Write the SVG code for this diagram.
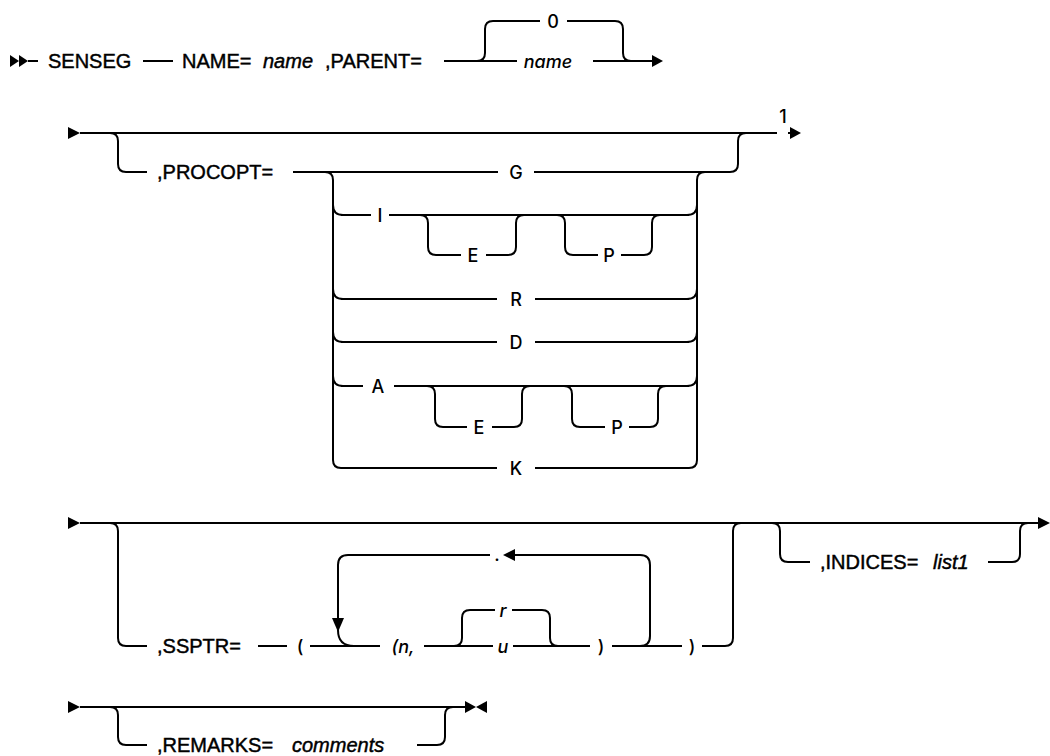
<svg xmlns="http://www.w3.org/2000/svg" width="1050" height="756" viewBox="0 0 1050 756">
<style>
.ln{fill:none;stroke:#000;stroke-width:2}
.ah{fill:#000}
.t{font-family:"Liberation Sans",Arial,sans-serif;font-size:20px;fill:#000;stroke:#000;stroke-width:0.45}
.s{font-family:Inter,"Liberation Sans",sans-serif;font-size:18px;font-weight:500;fill:#000;text-anchor:middle}
.i{font-style:italic}
</style>
<rect width="1050" height="756" fill="#fff"/>
<g id="connectors">
<path class="ln" d="M28,61H38 M143,61H173 M444,61H517 M593,61H653"/>
<path class="ln" d="M477,61Q485,61 485,53V29Q485,21 493,21H540 M567,21H615Q623,21 623,29V53Q623,61 631,61"/>
<path class="ln" d="M80,133H777 M788,133H791"/>
<path class="ln" d="M110,133Q118,133 118,141V164Q118,172 126,172H147"/>
<path class="ln" d="M293,172H498 M534,172H730Q738,172 738,164V141Q738,133 746,133"/>
<path class="ln" d="M325,172Q333,172 333,180V460Q333,468 341,468H497 M535,468H689Q697,468 697,460V180Q697,172 705,172"/>
<path class="ln" d="M333,205Q333,215 343,215 M333,289Q333,299 343,299 M333,332Q333,342 343,342 M333,376Q333,386 343,386"/>
<path class="ln" d="M687,215Q697,215 697,205 M687,299Q697,299 697,289 M687,342Q697,342 697,332 M687,386Q697,386 697,376"/>
<path class="ln" d="M341,215H371 M389,215H689"/>
<path class="ln" d="M420,215Q428,215 428,223V247Q428,255 436,255H461 M486,255H508Q516,255 516,247V223Q516,215 524,215"/>
<path class="ln" d="M557,215Q565,215 565,223V247Q565,255 573,255H598 M621,255H644Q652,255 652,247V223Q652,215 660,215"/>
<path class="ln" d="M341,299H497 M535,299H689 M341,342H497 M535,342H689"/>
<path class="ln" d="M341,386H363 M394,386H689"/>
<path class="ln" d="M427,386Q435,386 435,394V419Q435,427 443,427H467 M492,427H514Q522,427 522,419V394Q522,386 530,386"/>
<path class="ln" d="M564,386Q572,386 572,394V419Q572,427 580,427H605 M629,427H650Q658,427 658,419V394Q658,386 666,386"/>
<path class="ln" d="M80,523H1040"/>
<path class="ln" d="M110,523Q118,523 118,531V638Q118,646 126,646H147"/>
<path class="ln" d="M258,646H287 M310,646H380 M424,646H493 M513,646H590 M612,646H682 M702,646H725Q733,646 733,638V531Q733,523 741,523"/>
<path class="ln" d="M454,646Q462,646 462,638V618Q462,610 470,610H495 M512,610H542Q550,610 550,618V638Q550,646 558,646"/>
<path class="ln" d="M640,646Q650,646 650,636V565Q650,555 640,555H513 M490,555H348Q338,555 338,565V620 M338,630Q338,646 354,646"/>
<path class="ln" d="M772,523Q780,523 780,531V554Q780,562 788,562H810 M988,562H1012Q1020,562 1020,554V531Q1020,523 1028,523"/>
<path class="ln" d="M80,707H466"/>
<path class="ln" d="M110,707Q118,707 118,715V737Q118,745 126,745H147 M417,745H437Q445,745 445,737V715Q445,707 453,707"/>
<polygon class="ah" points="10,55 19,61 10,67"/>
<polygon class="ah" points="19,55 28,61 19,67"/>
<polygon class="ah" points="652,55 663,61 652,67"/>
<polygon class="ah" points="68,127 80,133 68,139"/>
<polygon class="ah" points="790,127 801,133 790,139"/>
<polygon class="ah" points="68,517 80,523 68,529"/>
<polygon class="ah" points="1038,517 1050,523 1038,529"/>
<polygon class="ah" points="503,555 515,549 515,561"/>
<polygon class="ah" points="332,618 344,618 338,632"/>
<polygon class="ah" points="68,701 80,707 68,713"/>
<polygon class="ah" points="465,701 476,707 465,713"/>
<polygon class="ah" points="487,701 476,707 487,713"/>
</g>
<g id="n-senseg"><text class="t" x="48" y="68">SENSEG</text></g>
<g id="n-name"><text class="t" x="182" y="68">NAME=</text><text class="t i" x="263" y="68">name</text></g>
<g id="n-parent"><text class="t" x="325" y="68">,PARENT=</text></g>
<g id="n-parent-0"><text class="s" x="553" y="27.5">0</text></g>
<g id="n-parent-name"><text class="s i" x="548" y="67.5">name</text></g>
<g id="n-note1"><text class="s" x="783" y="123" font-size="17">1</text></g>
<g id="n-procopt"><text class="t" x="157" y="179">,PROCOPT=</text></g>
<g id="n-g"><text class="s" x="516" y="178.5">G</text></g>
<g id="n-i"><text class="s" x="380" y="221.5">I</text></g>
<g id="n-ie"><text class="s" x="473" y="261.5">E</text></g>
<g id="n-ip"><text class="s" x="609" y="261.5">P</text></g>
<g id="n-r"><text class="s" x="516" y="305.5">R</text></g>
<g id="n-d"><text class="s" x="516" y="348.5">D</text></g>
<g id="n-a"><text class="s" x="378" y="392.5">A</text></g>
<g id="n-ae"><text class="s" x="479" y="433.5">E</text></g>
<g id="n-ap"><text class="s" x="617" y="433.5">P</text></g>
<g id="n-k"><text class="s" x="516" y="474.5">K</text></g>
<g id="n-ssptr"><text class="t" x="157" y="653">,SSPTR=</text></g>
<g id="n-lparen"><text class="s" x="300" y="652.5">(</text></g>
<g id="n-dot"><text class="s" x="497" y="561">.</text></g>
<g id="n-n"><text class="s i" x="403" y="652.5">(n,</text></g>
<g id="n-r2"><text class="s i" x="503" y="616.5">r</text></g>
<g id="n-u"><text class="s i" x="503" y="652.5">u</text></g>
<g id="n-rparen1"><text class="s" x="601" y="652.5">)</text></g>
<g id="n-rparen2"><text class="s" x="692" y="652.5">)</text></g>
<g id="n-indices"><text class="t" x="820" y="569">,INDICES=</text><text class="t i" x="933" y="569">list1</text></g>
<g id="n-remarks"><text class="t" x="157" y="752">,REMARKS=</text><text class="t i" x="292" y="752">comments</text></g>
</svg>
